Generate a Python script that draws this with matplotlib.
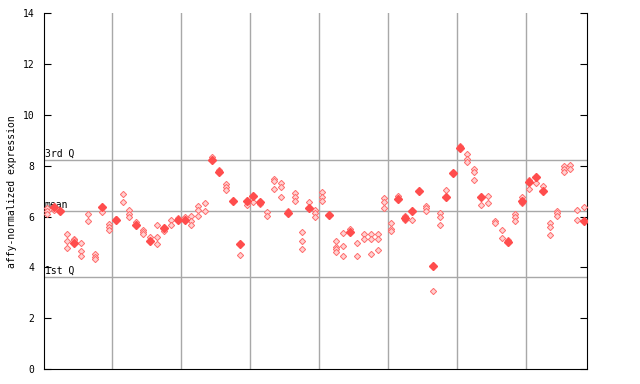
import matplotlib.pyplot as plt

# per-sample replicate values (hollow markers) and highlighted value (filled marker)
hollow = [
    [6.35, 6.2, 6.1], [6.27], [], [5.31, 5.04, 4.76], [5.13, 5.07],
    [4.97, 4.66, 4.46], [6.10, 5.83], [4.53, 4.42, 4.32], [6.19], [5.70, 5.58, 5.46],
    [5.92], [6.89, 6.57], [6.26, 6.10, 5.97], [5.79], [5.48, 5.39, 5.30],
    [5.18], [5.67, 5.18, 4.91], [5.42], [5.87, 5.67], [5.96],
    [5.99], [6.02, 5.84, 5.66], [6.42, 6.26, 6.02], [6.52, 6.22], [8.33],
    [7.83], [7.27, 7.15, 7.05], [], [4.48], [6.47],
    [6.57], [6.50], [6.18, 6.02], [7.47, 7.40, 7.08], [7.31, 7.15, 6.76],
    [6.23], [6.92, 6.78, 6.63], [5.38, 5.03, 4.72], [6.57], [6.26, 6.13, 5.97],
    [6.97, 6.78, 6.61], [], [5.04, 4.82, 4.72, 4.62], [5.34, 4.83, 4.44], [5.52],
    [4.95, 4.44], [5.30, 5.13], [5.30, 5.11, 4.52], [5.30, 5.11, 4.69], [6.72, 6.56, 6.33],
    [5.74, 5.52, 5.43], [6.81], [6.02, 5.87], [5.87], [],
    [6.42, 6.33, 6.23], [3.06], [6.13, 5.97, 5.66], [7.05], [],
    [8.79], [8.45, 8.26, 8.16], [7.86, 7.74, 7.43], [6.44], [6.81, 6.52],
    [5.84, 5.74], [5.47, 5.15], [5.08], [6.10, 5.97, 5.84], [6.76, 6.55],
    [7.42, 7.08], [7.31], [7.20], [5.74, 5.58, 5.26], [6.22, 6.13, 6.02],
    [7.99, 7.87, 7.74], [8.04, 7.86], [6.26, 5.85], [6.36],
]
filled = [
    None, 6.37, 6.23, None, 4.97, None, None, None, 6.39, None,
    5.88, None, None, 5.68, None, 5.05, None, 5.56, None, 5.87,
    5.86, None, None, None, 8.23, 7.77, None, 6.61, 4.92, 6.61,
    6.82, 6.59, None, None, None, 6.13, None, None, 6.35, None,
    None, 6.06, None, None, 5.41, None, None, None, None, None,
    None, 6.68, 5.94, 6.23, 7.01, None, 4.07, None, 6.75, 7.70,
    8.69, None, None, 6.75, None, None, None, 4.99, None, 6.63,
    7.34, 7.57, 7.01, None, None, None, None, None, 5.84,
]
q3, mean, q1 = 8.22, 6.22, 3.62
yticks = [0, 2, 4, 6, 8, 10, 12, 14]

plt.rcParams['font.family'] = 'DejaVu Sans Mono'
fig = plt.figure(figsize=(6.4, 3.84), dpi=100)
ax = fig.add_axes([0.0692, 0.039, 0.848, 0.9265])

gray = '#a8a8a8'
for xg in range(10, 71, 10):
    ax.axvline(xg - 0.5, color=gray, lw=1, zorder=1)
for v in (q3, mean, q1):
    ax.axhline(v, color=gray, lw=1, zorder=1)

# quartile labels sit under the markers
for v, lab in ((q3, '3rd Q'), (mean, 'mean'), (q1, '1st Q')):
    ax.text(-0.25, v + 0.05, lab, fontsize=7, va='bottom', ha='left', zorder=2)

hx = [i for i, vals in enumerate(hollow) for _ in vals]
hy = [v for vals in hollow for v in vals]
ax.plot(hx, hy, 'D', ms=3.2, mfc='#ffd2d2', mec='#ff6c6c', mew=0.7, zorder=3)
fx = [i for i, v in enumerate(filled) if v is not None]
fy = [v for v in filled if v is not None]
ax.plot(fx, fy, 'D', ms=4.2, color='#ff4d4d', zorder=4)

ax.set_xlim(-0.35, 78.4)
ax.set_ylim(0, 14)
ax.set_yticks(yticks)
ax.set_xticks([])
ax.tick_params(axis='y', direction='in', length=5, labelsize=7, right=True, pad=7)
ax.spines['top'].set_visible(False)
ax.set_ylabel('affy-normalized expression', fontsize=7, labelpad=4)

fig.savefig('out.png', dpi=100)
